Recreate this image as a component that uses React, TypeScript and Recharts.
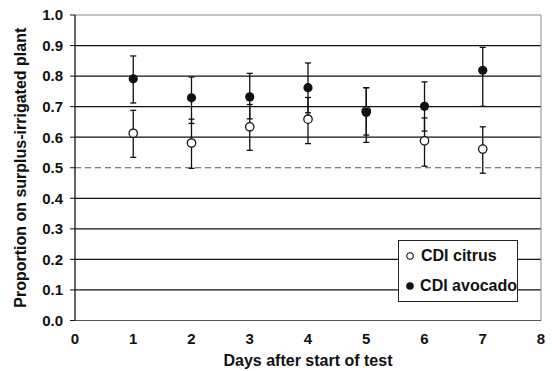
import React from "react";
import {
  ErrorBar,
  Legend,
  ReferenceLine,
  Scatter,
  ScatterChart,
  XAxis,
  YAxis,
} from "recharts";

const days = [1, 2, 3, 4, 5, 6, 7];

const citrusMean = [0.613, 0.581, 0.634, 0.659, 0.686, 0.588, 0.561];
const citrusLow = [0.534, 0.498, 0.557, 0.579, 0.607, 0.505, 0.482];
const citrusHigh = [0.688, 0.659, 0.707, 0.73, 0.762, 0.663, 0.634];

const avocadoMean = [0.791, 0.729, 0.732, 0.762, 0.681, 0.701, 0.819];
const avocadoLow = [0.712, 0.645, 0.66, 0.68, 0.583, 0.62, 0.701];
const avocadoHigh = [0.866, 0.797, 0.809, 0.843, 0.762, 0.781, 0.894];

const xTicks = [0, 1, 2, 3, 4, 5, 6, 7, 8];
const yTicks = [0, 0.1, 0.2, 0.3, 0.4, 0.5, 0.6, 0.7, 0.8, 0.9, 1.0];
const solidGrid = [0.1, 0.2, 0.3, 0.4, 0.6, 0.7, 0.8, 0.9];

const FONT = "'Liberation Sans', Arial, sans-serif";

// error given as [below, above] offsets from the mean
const build = (mean: number[], low: number[], high: number[]) =>
  days.map((d, i) => ({
    day: d,
    value: mean[i],
    err: [+(mean[i] - low[i]).toFixed(3), +(high[i] - mean[i]).toFixed(3)],
  }));

const citrusData = build(citrusMean, citrusLow, citrusHigh);
const avocadoData = build(avocadoMean, avocadoLow, avocadoHigh);

const OpenDot = (p: any) => (
  <circle cx={p.cx} cy={p.cy} r={4.2} fill="#fff" stroke="#111" strokeWidth={1.3} />
);
const FilledDot = (p: any) => <circle cx={p.cx} cy={p.cy} r={4.6} fill="#111" />;

function LegendBox(): React.ReactElement {
  const row: React.CSSProperties = {
    display: "flex",
    alignItems: "center",
    height: 30,
    fontFamily: FONT,
    fontWeight: 700,
    fontSize: 16,
    color: "#111",
    whiteSpace: "nowrap",
  };
  return (
    <div
      style={{
        width: 120,
        height: 62,
        boxSizing: "border-box",
        border: "1px solid #222",
        background: "#fff",
        paddingLeft: 6,
      }}
    >
      <div style={row}>
        <svg width={12} height={12} style={{ marginRight: 4 }}>
          <circle cx={5} cy={6} r={3.2} fill="#fff" stroke="#111" strokeWidth={1.1} />
        </svg>
        CDI citrus
      </div>
      <div style={row}>
        <svg width={12} height={12} style={{ marginRight: 4 }}>
          <circle cx={5} cy={6} r={3.8} fill="#111" />
        </svg>
        CDI avocado
      </div>
    </div>
  );
}

const YTitle = (props: any) => {
  const vb = props.viewBox || {};
  const x = (vb.x ?? 0) + 20;
  const y = (vb.y ?? 0) + (vb.height ?? 0) / 2;
  return (
    <text
      x={x}
      y={y}
      transform={`rotate(-90, ${x}, ${y})`}
      textAnchor="middle"
      dominantBaseline="central"
      fontFamily={FONT}
      fontWeight={700}
      fontSize={16}
      fill="#111"
    >
      Proportion on surplus-irrigated plant
    </text>
  );
};

const XTitle = (props: any) => {
  const vb = props.viewBox || {};
  const x = (vb.x ?? 0) + (vb.width ?? 0) / 2;
  const y = (vb.y ?? 0) + 45.5;
  return (
    <text x={x} y={y} textAnchor="middle" fontFamily={FONT} fontWeight={700} fontSize={16} fill="#111">
      Days after start of test
    </text>
  );
};

export default function App(): React.ReactElement {
  return (
    <div style={{ position: "absolute", left: 0, top: 0, width: 552, height: 371, background: "#fff" }}>
      <ScatterChart width={552} height={371} margin={{ top: 15, right: 11, bottom: 0, left: 0 }}>
        <XAxis
          type="number"
          dataKey="day"
          domain={[0, 8]}
          ticks={xTicks}
          interval={0}
          tickLine={false}
          tickSize={0}
          tickMargin={13}
          height={50.5}
          axisLine={{ stroke: "#555", strokeWidth: 1.2 }}
          tick={{ fill: "#111", fontFamily: FONT, fontWeight: 700, fontSize: 15 }}
          label={<XTitle />}
        />
        <YAxis
          type="number"
          dataKey="value"
          domain={[0, 1]}
          ticks={yTicks}
          interval={0}
          width={75}
          tickSize={5}
          tickMargin={7}
          tickFormatter={(v: number) => v.toFixed(1)}
          tickLine={{ stroke: "#111" }}
          axisLine={{ stroke: "#111", strokeWidth: 1.3 }}
          tick={{ fill: "#111", fontFamily: FONT, fontWeight: 700, fontSize: 15 }}
          label={<YTitle />}
        />
        {solidGrid.map((g) => (
          <ReferenceLine key={g} y={g} stroke="#111" strokeWidth={1.2} />
        ))}
        <ReferenceLine y={0.5} stroke="#555" strokeWidth={1} strokeDasharray="6 4" />
        <ReferenceLine y={1} stroke="#888" strokeWidth={1} />
        <ReferenceLine x={8} stroke="#888" strokeWidth={1} />
        <Legend
          layout="vertical"
          align="center"
          verticalAlign="middle"
          content={() => <LegendBox />}
          wrapperStyle={{ left: 398, top: 240, width: 120, height: 62 }}
        />
        <Scatter name="CDI citrus" data={citrusData} shape={OpenDot} isAnimationActive={false}>
          <ErrorBar dataKey="err" direction="y" width={3} stroke="#111" strokeWidth={1.3} />
        </Scatter>
        <Scatter name="CDI avocado" data={avocadoData} shape={FilledDot} isAnimationActive={false}>
          <ErrorBar dataKey="err" direction="y" width={3} stroke="#111" strokeWidth={1.3} />
        </Scatter>
      </ScatterChart>
    </div>
  );
}
